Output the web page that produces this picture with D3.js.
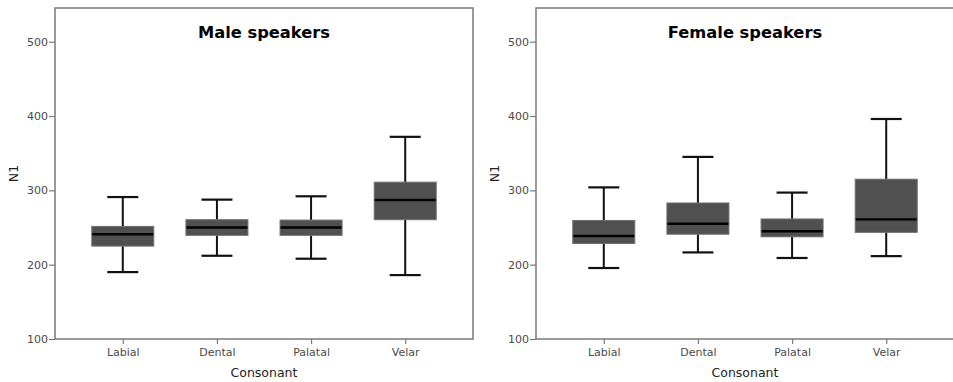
<!DOCTYPE html>
<html><head><meta charset="utf-8">
<script src="https://cdn.jsdelivr.net/npm/d3@7"></script>
<style>body{margin:0;background:#fff}svg{display:block}</style>
</head><body><svg id="c" width="953" height="382"></svg>
<script>
const categories = ["Labial","Dental","Palatal","Velar"];
const yTicks = [100,200,300,400,500];
// [lower whisker, Q1, median, Q3, upper whisker]
const maleLow    = [190, 212, 208, 186];
const maleQ1     = [225, 239.5, 239.5, 260.5];
const maleMedian = [241, 250, 250, 287];
const maleQ3     = [251.5, 260.5, 260, 311];
const maleHigh   = [291, 287.5, 292, 372];
const femaleLow    = [195.5, 216.5, 209, 211.5];
const femaleQ1     = [228.5, 241, 237.5, 243.5];
const femaleMedian = [238.5, 255, 245, 261];
const femaleQ3     = [259.5, 283, 261.5, 315];
const femaleHigh   = [304, 345, 297, 396];

const panels = [
  {title:"Male speakers", x0:55, lo:maleLow, q1:maleQ1, med:maleMedian, q3:maleQ3, hi:maleHigh},
  {title:"Female speakers", x0:536, lo:femaleLow, q1:femaleQ1, med:femaleMedian, q3:femaleQ3, hi:femaleHigh}
];
const svg = d3.select("#c");
const W = 418, plotTop = 8, plotBottom = 339;
const y = d3.scaleLinear().domain([100,500]).range([plotBottom, 41.7]);
const font = "DejaVu Sans, Verdana, sans-serif";

panels.forEach(p => {
  const g = svg.append("g").attr("transform", `translate(${p.x0},0)`);
  const x = d3.scalePoint().domain(categories).range([0, W]).padding(0.72);
  g.append("rect").attr("x",0).attr("y",plotTop).attr("width",W).attr("height",plotBottom-plotTop)
    .attr("fill","none").attr("stroke","#7a7a7a").attr("stroke-width",1.5);
  const ya = g.append("g").call(d3.axisLeft(y).tickValues(yTicks).tickSize(6).tickPadding(1).tickFormat(d3.format("d")));
  ya.select(".domain").remove();
  ya.selectAll("line").attr("stroke","#7a7a7a").attr("stroke-width",1.2);
  ya.selectAll("text").attr("fill","#4a4a4a").style("font-family",font).style("font-size","11px");
  const xa = g.append("g").attr("transform",`translate(0,${plotBottom})`).call(d3.axisBottom(x).tickSize(5).tickPadding(4));
  xa.select(".domain").remove();
  xa.selectAll("line").attr("stroke","#7a7a7a").attr("stroke-width",1.2);
  xa.selectAll("text").attr("fill","#4a4a4a").style("font-family",font).style("font-size","11px");
  const bw = 62, cw = 31;
  categories.forEach((c,i) => {
    const cx = x(c);
    const b = g.append("g");
    b.append("line").attr("x1",cx).attr("x2",cx).attr("y1",y(p.hi[i])).attr("y2",y(p.q3[i])).attr("stroke","#111").attr("stroke-width",2);
    b.append("line").attr("x1",cx).attr("x2",cx).attr("y1",y(p.q1[i])).attr("y2",y(p.lo[i])).attr("stroke","#111").attr("stroke-width",2);
    b.append("line").attr("x1",cx-cw/2).attr("x2",cx+cw/2).attr("y1",y(p.hi[i])).attr("y2",y(p.hi[i])).attr("stroke","#111").attr("stroke-width",2.2);
    b.append("line").attr("x1",cx-cw/2).attr("x2",cx+cw/2).attr("y1",y(p.lo[i])).attr("y2",y(p.lo[i])).attr("stroke","#111").attr("stroke-width",2.2);
    b.append("rect").attr("x",cx-bw/2).attr("y",y(p.q3[i])).attr("width",bw).attr("height",y(p.q1[i])-y(p.q3[i]))
      .attr("fill","#505050").attr("stroke","#6e6e6e").attr("stroke-width",1);
    b.append("line").attr("x1",cx-bw/2+0.5).attr("x2",cx+bw/2-0.5).attr("y1",y(p.med[i])).attr("y2",y(p.med[i])).attr("stroke","#000").attr("stroke-width",2.4);
  });
  g.append("text").attr("x",W/2).attr("y",38).attr("text-anchor","middle")
    .style("font-family",font).style("font-weight","bold").style("font-size","16.3px").attr("fill","#000").text(p.title);
  g.append("text").attr("x",W/2).attr("y",377).attr("text-anchor","middle")
    .style("font-family",font).style("font-size","12.5px").attr("fill","#222").text("Consonant");
  g.append("text").attr("transform",`translate(-37,${(plotTop+plotBottom)/2}) rotate(-90)`).attr("text-anchor","middle")
    .style("font-family",font).style("font-size","12.5px").attr("fill","#222").text("N1");
});
</script></body></html>
